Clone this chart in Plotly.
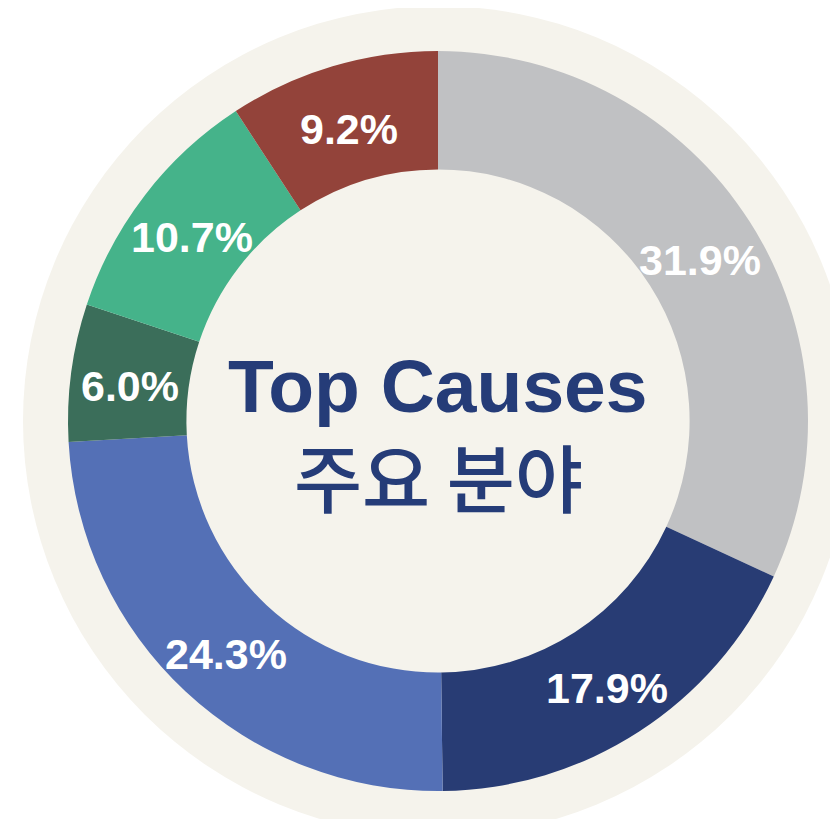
import math
import plotly.graph_objects as go

categories = ["Gray", "Navy", "Blue", "Dark green", "Green", "Brown"]
values = [31.9, 17.9, 24.3, 6.0, 10.7, 9.2]
colors = ["#C0C1C3", "#283C74", "#5470B6", "#3B6E5A", "#45B38A", "#93433A"]
center_title = "Top Causes"
center_subtitle = "주요 분야"

# page body has an 8px margin, so the figure is drawn 8px in from the top-left corner
OFF = 8
W, H = 838 - OFF, 819 - OFF
cx, cy, r = 438 - OFF, 421 - OFF, 370
hole = 0.68
ring_r = 415


def px(x):
    return x / W


def py(y):
    return 1 - y / H


fig = go.Figure()
fig.add_trace(go.Pie(
    labels=categories,
    values=values,
    marker=dict(colors=colors, line=dict(width=0)),
    hole=hole,
    sort=False,
    direction="clockwise",
    rotation=0,
    textinfo="none",
    showlegend=False,
    hoverinfo="label+value",
    domain=dict(x=[px(cx - r), px(cx + r)], y=[py(cy + r), py(cy - r)]),
))

fig.add_shape(type="circle", xref="paper", yref="paper",
              x0=px(cx - ring_r), x1=px(cx + ring_r),
              y0=py(cy + ring_r), y1=py(cy - ring_r),
              fillcolor="#F5F3EC", line=dict(width=0), layer="below")

# percentage labels at the middle of each slice (angle from the cumulative values)
total = sum(values)
label_r = r * (1 + hole) / 2
cum = 0.0
for v in values:
    mid = (cum + v / 2) / total * 2 * math.pi
    cum += v
    lx = cx + label_r * math.sin(mid)
    ly = cy - label_r * math.cos(mid) + 6
    fig.add_annotation(x=px(lx), y=py(ly), xref="paper", yref="paper",
                       xanchor="center", yanchor="middle",
                       text=f"{v:.1f}%", showarrow=False,
                       font=dict(family="Liberation Sans, Arial", size=43,
                                 color="white", weight="bold"))

fig.add_annotation(x=px(cx), y=py(386 - OFF), xref="paper", yref="paper",
                   xanchor="center", yanchor="middle",
                   text=center_title, showarrow=False,
                   font=dict(family="Liberation Sans, Arial", size=75,
                             color="#253C78", weight="bold"))
fig.add_annotation(x=px(cx), y=py(474 - OFF), xref="paper", yref="paper",
                   xanchor="center", yanchor="middle",
                   text=center_subtitle, showarrow=False,
                   font=dict(family="Noto Sans CJK KR", size=74, color="#253C78",
                             weight=500))

fig.update_layout(width=W, height=H, margin=dict(l=0, r=0, t=0, b=0),
                  paper_bgcolor="white", plot_bgcolor="white")

fig.write_html("out.html")
